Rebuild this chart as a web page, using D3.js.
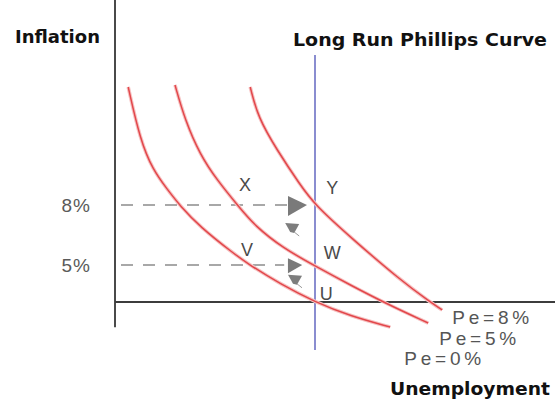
<!DOCTYPE html>
<html>
<head>
<meta charset="utf-8">
<script src="https://cdn.jsdelivr.net/npm/d3@7"></script>
<style>
  body { margin: 0; background: #fff; }
  svg { display: block; }
</style>
</head>
<body>
<script>
var w = 557;
var h = 401;

// expected inflation of each short run curve
var curveNames = ["Pe=0%", "Pe=5%", "Pe=8%"];

// short run phillips curves, [unemployment, inflation]
var pe0 = [[0.33, 13.9], [0.63, 11.25], [0.95, 9.75], [1.3, 8.8], [1.63, 7.95], [2.13, 6.9],
           [2.95, 5.6], [3.33, 5.05], [4.13, 2.43], [5, 0], [5.88, -1.89], [6.88, -3.38]];
var pe5 = [[1.5, 14.0], [1.75, 12.25], [2.13, 10.5], [2.55, 9.25], [3.08, 7.95], [3.5, 6.95],
           [4.2, 5.85], [5, 4.86], [5.88, 2.3], [6.8, -0.27], [7.83, -2.84]];
var pe8 = [[3.38, 13.9], [3.58, 12.35], [4.05, 10.75], [4.63, 9.0], [5, 8], [5.88, 6.4],
           [7.13, 2.97], [7.88, 0], [8.18, -1.08]];
var curves = [pe0, pe5, pe8];

// natural rate of unemployment (long run curve)
var naturalRate = 5;

// inflation tick values
var inflationTicks = [5, 8];

// points on the chart
var pointNames = ["X", "Y", "V", "W", "U"];
var pointValues = [[3.25, 9], [5.43, 8.85], [3.3, 5.75], [5.43, 5.6], [5.28, 1.2]];

// movement arrows, [unemployment, inflation]
var rightArrows = [[4.8, 8], [4.68, 5]];
var downArrows = [[4.43, 6.85], [4.5, 3.0]];

// scales, the vertical axis is a sketch so it is piecewise
var x = d3.scaleLinear()
          .domain([0, 11])
          .range([115, 555]);

var y = d3.scaleLinear()
          .domain([0, 5, 8])
          .range([302, 265, 205]);

var svg = d3.select("body")
            .append("svg")
            .attr("width", w)
            .attr("height", h);

svg.append("rect")
   .attr("width", w)
   .attr("height", h)
   .attr("fill", "#fff");

// dashed lines from the axis to the arrows
svg.selectAll(".dash")
   .data(rightArrows)
   .enter()
   .append("line")
   .attr("class", "dash")
   .attr("x1", x(0))
   .attr("x2", function(d) { return x(d[0]) - 18; })
   .attr("y1", function(d) { return y(d[1]); })
   .attr("y2", function(d) { return y(d[1]); })
   .attr("stroke", "#8c8c8c")
   .attr("stroke-width", 1.6)
   .attr("stroke-dasharray", "12,10")
   .attr("stroke-dashoffset", -6);

// y axis
svg.append("line")
   .attr("x1", x(0)).attr("x2", x(0))
   .attr("y1", y(18.35)).attr("y2", y(-3.4))
   .attr("stroke", "#4a4a4a")
   .attr("stroke-width", 2);

// x axis
svg.append("line")
   .attr("x1", x(0)).attr("x2", x(11))
   .attr("y1", y(0)).attr("y2", y(0))
   .attr("stroke", "#3c3c3c")
   .attr("stroke-width", 2);

// long run phillips curve
svg.append("line")
   .attr("x1", x(naturalRate)).attr("x2", x(naturalRate))
   .attr("y1", y(15.5)).attr("y2", y(-6.5))
   .attr("stroke", "#8a8dd0")
   .attr("stroke-width", 2);

// short run curves
var line = d3.line()
             .x(function(d) { return x(d[0]); })
             .y(function(d) { return y(d[1]); })
             .curve(d3.curveBasis);

svg.selectAll(".halo")
   .data(curves)
   .enter()
   .append("path")
   .attr("class", "halo")
   .attr("d", line)
   .attr("fill", "none")
   .attr("stroke", "#f6c2c2")
   .attr("stroke-width", 3.6);

svg.selectAll(".curve")
   .data(curves)
   .enter()
   .append("path")
   .attr("class", "curve")
   .attr("d", line)
   .attr("fill", "none")
   .attr("stroke", "#e2474b")
   .attr("stroke-width", 1.5);

// arrows pointing right
svg.selectAll(".rarrow")
   .data(rightArrows)
   .enter()
   .append("path")
   .attr("class", "rarrow")
   .attr("transform", function(d) { return "translate(" + x(d[0]) + "," + y(d[1]) + ")"; })
   .attr("d", function(d, i) {
     var s = i === 0 ? 1 : 0.75;
     return "M0,0L" + (-19 * s) + "," + (-9 * s) + "L" + (-19 * s) + "," + (11 * s) + "Z";
   })
   .attr("fill", "#7a7a7a");

// small arrows pointing down
svg.selectAll(".darrow")
   .data(downArrows)
   .enter()
   .append("path")
   .attr("class", "darrow")
   .attr("transform", function(d) { return "translate(" + x(d[0]) + "," + y(d[1]) + ")"; })
   .attr("d", "M-7,-5L7,-4L2,5L-2,4Z")
   .attr("fill", "#7d7d7d");

svg.selectAll(".dtail")
   .data(downArrows)
   .enter()
   .append("line")
   .attr("class", "dtail")
   .attr("x1", function(d) { return x(d[0]) + 2; })
   .attr("y1", function(d) { return y(d[1]) + 4; })
   .attr("x2", function(d) { return x(d[0]) + 7; })
   .attr("y2", function(d) { return y(d[1]) + 8; })
   .attr("stroke", "#9a9a9a")
   .attr("stroke-width", 1);

// point labels
svg.selectAll(".point")
   .data(pointNames)
   .enter()
   .append("text")
   .attr("class", "point")
   .attr("x", function(d, i) { return x(pointValues[i][0]); })
   .attr("y", function(d, i) { return y(pointValues[i][1]); })
   .attr("dy", "0.36em")
   .attr("text-anchor", "middle")
   .attr("font-family", "Liberation Sans, Arial, sans-serif")
   .attr("font-size", "18px")
   .attr("fill", "#4a4a4a")
   .text(function(d) { return d; });

// inflation ticks
var yAxis = d3.axisLeft(y)
              .tickValues(inflationTicks)
              .tickSize(0)
              .tickPadding(24)
              .tickFormat(function(d) { return d + "%"; });

var gy = svg.append("g")
            .attr("transform", "translate(" + x(0) + ",0)")
            .call(yAxis);
gy.select(".domain").remove();
gy.selectAll("text")
  .attr("font-family", "Liberation Sans, Arial, sans-serif")
  .attr("font-size", "19px")
  .attr("letter-spacing", "1px")
  .attr("fill", "#5a5a5a");

// curve labels, placed below the end of each curve
var labelOffsets = [[14, 31], [11, 15], [10, 7]];
svg.selectAll(".pe")
   .data(curveNames)
   .enter()
   .append("text")
   .attr("class", "pe")
   .attr("x", function(d, i) { var c = curves[i]; return x(c[c.length - 1][0]) + labelOffsets[i][0]; })
   .attr("y", function(d, i) { var c = curves[i]; return y(c[c.length - 1][1]) + labelOffsets[i][1]; })
   .attr("dy", "0.36em")
   .attr("font-family", "Liberation Sans, Arial, sans-serif")
   .attr("font-size", "19px")
   .attr("fill", "#555")
   .attr("textLength", 77)
   .attr("lengthAdjust", "spacing")
   .text(function(d) { return d; });

// titles
svg.append("text")
   .attr("x", 15)
   .attr("y", 43)
   .attr("font-family", "DejaVu Sans, sans-serif")
   .attr("font-weight", "bold")
   .attr("font-size", "18px")
   .attr("textLength", 85)
   .attr("lengthAdjust", "spacingAndGlyphs")
   .attr("fill", "#111")
   .text("Inflation");

svg.append("text")
   .attr("x", 293)
   .attr("y", 46)
   .attr("font-family", "DejaVu Sans, sans-serif")
   .attr("font-weight", "bold")
   .attr("font-size", "17px")
   .attr("textLength", 254)
   .attr("lengthAdjust", "spacingAndGlyphs")
   .attr("fill", "#111")
   .text("Long Run Phillips Curve");

svg.append("text")
   .attr("x", 390)
   .attr("y", 395)
   .attr("font-family", "DejaVu Sans, sans-serif")
   .attr("font-weight", "bold")
   .attr("font-size", "17px")
   .attr("textLength", 160)
   .attr("lengthAdjust", "spacingAndGlyphs")
   .attr("fill", "#111")
   .text("Unemployment");
</script>
</body>
</html>
